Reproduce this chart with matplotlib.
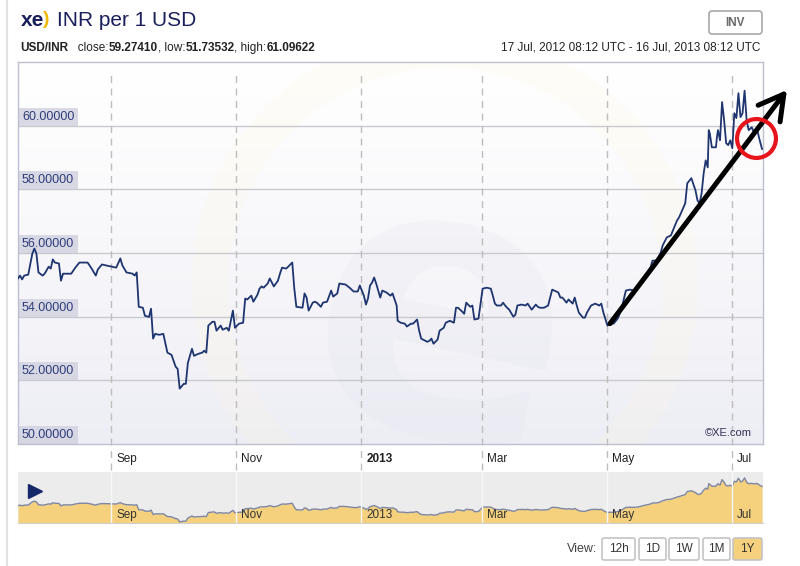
import matplotlib
matplotlib.use('Agg')
import matplotlib.pyplot as plt
import matplotlib.dates as mdates
import matplotlib.transforms as mtransforms
from matplotlib.patches import FancyBboxPatch, Rectangle, Circle, PathPatch
from matplotlib.textpath import TextPath
from matplotlib.font_manager import FontProperties
from matplotlib.lines import Line2D
import numpy as np
import pandas as pd

plt.rcParams['font.family'] = ['Liberation Sans', 'DejaVu Sans']

# ---------------- data ----------------
start = pd.Timestamp('2012-07-17 08:12')
end = pd.Timestamp('2013-07-16 08:12')

day_offsets = [0, 1, 2, 3, 5, 7, 8, 9, 10, 12, 13, 15, 16, 17, 18, 20, 21, 22, 24, 26, 28, 30, 34, 36, 38, 39,
               41, 43, 46, 48, 50, 51, 53, 56, 57, 58, 59, 61, 62, 64, 65, 66, 67, 69, 71, 73, 75, 77, 78, 79,
               81, 82, 83, 85, 86, 88, 90, 91, 92, 93, 95, 96, 97, 99, 100, 102, 103, 105, 106, 107, 108, 110,
               111, 112, 114, 115, 117, 118, 119, 120, 122, 123, 125, 127, 128, 129, 131, 132, 134, 135, 136,
               139, 140, 141, 142, 144, 145, 146, 148, 149, 151, 153, 154, 156, 157, 160, 162, 164, 166, 167,
               169, 170, 171, 172, 173, 174, 175, 177, 178, 180, 182, 183, 185, 185.5, 187, 189, 190, 192, 193,
               195, 196, 197, 200, 201, 202, 203, 205, 206, 208, 209, 211, 213, 214, 215, 217, 218, 219, 221,
               222, 223, 225, 227, 229, 231, 232, 233, 234, 236, 237, 238, 239, 240, 242, 243, 244, 246, 248,
               249, 251, 253, 254, 255, 257, 259, 261, 262, 264, 265, 266, 268, 269, 271, 272, 273, 274, 276,
               277, 278, 280, 282, 284, 285, 286, 288, 289, 291, 293, 294, 295, 297, 299, 301, 303, 305, 307,
               309, 310, 312, 314, 315, 317, 319, 320, 322, 323, 326, 327, 329, 331, 332, 333, 334, 335, 336,
               337, 337.5, 338, 339, 341, 341.5, 342, 343, 344, 345, 346, 347, 348, 349, 350, 351, 352, 353,
               354, 355, 356, 357, 358.5, 359.5, 361, 362, 363.5]

rates = [55.20, 55.29, 55.17, 55.29, 55.32, 55.98, 56.14, 55.98, 55.39, 55.29, 55.35, 55.57, 55.51, 55.80,
         55.70, 55.67, 55.13, 55.35, 55.35, 55.35, 55.54, 55.70, 55.70, 55.51, 55.29, 55.48,
         55.64, 55.61, 55.57, 55.54, 55.83, 55.61, 55.39, 55.35, 55.29, 55.39, 54.31, 54.28, 54.03, 53.99,
         54.25, 53.31, 53.46, 53.43, 53.46, 52.87, 52.80, 52.43, 52.36, 51.74,
         51.89, 51.89, 52.55, 52.99, 52.77, 52.83, 52.87, 52.93, 52.87, 53.72, 53.84, 53.84, 53.56, 53.72,
         53.59, 53.65, 53.56, 54.19, 53.65, 53.72, 53.78, 53.81,
         54.57, 54.54, 54.66, 54.47, 54.69, 54.88, 54.95, 54.91, 55.04, 55.20, 54.95, 55.13, 55.35, 55.54,
         55.51, 55.57, 55.70, 54.88, 54.31,
         54.28, 54.73, 54.60, 54.19, 54.44, 54.47, 54.44, 54.31, 54.44, 54.47, 54.82, 54.63, 54.73, 55.04,
         55.01, 54.91, 54.79, 54.79, 54.98,
         54.66, 54.38, 54.57, 54.98, 55.07, 55.23, 55.04, 54.60, 54.82, 54.76, 54.66, 54.73, 54.35, 53.87,
         53.81, 53.78, 53.69, 53.78, 53.78,
         53.91, 53.56, 53.31, 53.21, 53.24, 53.31, 53.15, 53.28, 53.56, 53.65, 53.81, 53.87, 53.81, 54.28,
         54.28, 54.16, 54.09, 54.44, 54.31,
         54.35, 53.91, 53.94, 54.88, 54.91, 54.88, 54.66, 54.41, 54.35, 54.35, 54.44, 54.35, 54.28, 54.22,
         54.00, 54.06, 54.35, 54.38, 54.35,
         54.41, 54.22, 54.38, 54.31, 54.28, 54.28, 54.35, 54.85, 54.82, 54.76, 54.60, 54.60, 54.44, 54.54,
         54.41, 54.60, 54.35, 54.13, 53.97,
         53.97, 54.13, 54.35, 54.41, 54.35, 54.41, 54.13, 53.72, 53.78, 53.78, 53.94, 54.09, 54.28, 54.82,
         54.85, 54.82, 54.91, 55.13, 55.35,
         55.54, 55.76, 55.76, 56.01, 56.24, 56.49, 56.55, 56.71, 57.02, 57.12, 57.56, 58.19, 58.35, 57.97,
         57.65, 57.56, 57.87, 58.50, 58.91,
         58.69, 59.86, 59.76, 59.32, 59.32, 59.64, 59.86, 59.54, 60.74, 60.17, 59.45, 59.39, 59.54, 59.29,
         60.39, 60.24, 61.02, 60.27,
         60.39, 61.10, 60.17, 59.86, 59.95, 59.80, 59.92, 59.64, 59.27]

y_ticks = [50, 52, 54, 56, 58, 60]
month_ticks = ['2012-09-01', '2012-11-01', '2013-01-01', '2013-03-01', '2013-05-01', '2013-07-01']
month_labels = ['Sep', 'Nov', '2013', 'Mar', 'May', 'Jul']
bold_labels = ['2013']
view_buttons = ['12h', '1D', '1W', '1M', '1Y']
active_view = '1Y'

# annotation (hand-drawn arrow and circle)
arrow_from = (289.2, 53.78)
arrow_to = (375.7, 61.12)
circle_at = (360.5, 59.61)

dates = start + pd.to_timedelta(day_offsets, unit='D')
tick_dates = [pd.Timestamp(t) for t in month_ticks]

# ---------------- figure ----------------
W, H = 800, 566
fig = plt.figure(figsize=(8, 5.66), dpi=100)
fig.patch.set_facecolor('white')


def fx(x):
    return x / W


def fy(y):
    return 1 - y / H


ident = mtransforms.IdentityTransform()


def px_box(x0, y0, x1, y1, fc, ec, r=3, lw=1.0):
    p = FancyBboxPatch((x0, H - y1), x1 - x0, y1 - y0, boxstyle=f'round,pad=0,rounding_size={r}',
                       fc=fc, ec=ec, lw=lw, transform=ident)
    fig.add_artist(p)


# outer frame line on left
fig.add_artist(Line2D([fx(6.5), fx(6.5)], [0, 1], color='#e2e2e2', lw=1.5, transform=fig.transFigure))

# ---------------- main axes ----------------
ax = fig.add_axes([fx(18), fy(444), 745 / W, 382 / H])
ax.set_facecolor('white')

# gradient background (white at top -> pale lavender at bottom)
g = np.linspace(0, 1, 200)
top = np.array([1.0, 1.0, 1.0])
bot = np.array([0.93, 0.93, 0.96])
grad = (top[None, :] * (1 - g[:, None] ** 1.2) + bot[None, :] * (g[:, None] ** 1.2))[:, None, :]
ax.imshow(grad, extent=[0, 1, 0, 1], origin='upper', transform=ax.transAxes, aspect='auto', zorder=0)

# faint watermark
ring = Circle((445, H - 285), 235, transform=ident, fill=False, ec='#fff8e0', lw=26, alpha=0.22, zorder=0.5)
ax.add_patch(ring)
ring.set_clip_path(ax.patch)
tp = TextPath((0, 0), 'e', size=380, prop=FontProperties(family='DejaVu Sans', weight='bold'))
ext = tp.get_extents()
wm_tr = mtransforms.Affine2D().translate(-(ext.x0 + ext.x1) / 2, -(ext.y0 + ext.y1) / 2) \
    .rotate_deg(-12).translate(440, H - 330)
wm = PathPatch(tp, transform=wm_tr, fc='#e6e6ef', ec='none', alpha=0.28, zorder=0.6)
ax.add_patch(wm)
wm.set_transform(wm_tr)
wm.set_clip_path(ax.patch)

xmin = mdates.date2num(start)
xmax = mdates.date2num(start + pd.Timedelta(days=364))
ax.set_xlim(xmin, xmax)
ax.set_ylim(50, 62)

for v in y_ticks[1:]:
    ax.axhline(v, color='#c9c9d0', lw=1, zorder=1)

for d in tick_dates:
    ax.axvline(d, ymin=-0.068, ymax=0.974, color='#bdbdbd', lw=1, ls=(0, (5, 4)), clip_on=False, zorder=1)

# y labels in boxes
btrans = ax.get_yaxis_transform()
for v in y_ticks:
    ax.add_patch(Rectangle((0, v), 60 / 745, 18 / 31.75, transform=btrans, fc='#d3d3e1', ec='none',
                           alpha=0.85, zorder=2))
    ax.text(4 / 745, v + 9 / 31.75, f'{v:.5f}', transform=btrans, fontsize=9, color='#2e3d7a',
            va='center', ha='left', zorder=3)

ax.plot(dates, rates, color='#1f3570', lw=1.3, zorder=4)

ax.text(fx(752), fy(433), '\u00a9XE.com', transform=fig.transFigure, fontsize=8, color='#333355',
        ha='right', va='center')

for s in ax.spines.values():
    s.set_color('#bcc0d0')
    s.set_linewidth(1)
ax.set_xticks([])
ax.set_yticks([])

# x labels below main axes
xt = mtransforms.offset_copy(ax.get_xaxis_transform(), fig=fig, x=5, y=0, units='dots')
for d, lab in zip(tick_dates, month_labels):
    ax.text(d, -15 / 382, lab, transform=xt, fontsize=8.5, color='#222222', ha='left', va='center',
            fontweight='bold' if lab in bold_labels else 'normal', clip_on=False)

# annotation arrow & circle
a0 = mdates.date2num(start + pd.Timedelta(days=arrow_from[0]))
a1 = mdates.date2num(start + pd.Timedelta(days=arrow_to[0]))
ax.annotate('', xy=(a1, arrow_to[1]), xytext=(a0, arrow_from[1]), annotation_clip=False,
            arrowprops=dict(arrowstyle='->,head_length=0.8,head_width=0.45', lw=3.6, color='black',
                            shrinkA=0, shrinkB=0, mutation_scale=22), zorder=6)
c0 = mdates.date2num(start + pd.Timedelta(days=circle_at[0]))
ax.plot([c0], [circle_at[1]], 'o', ms=28, mfc='none', mec='#e8141c', mew=3, clip_on=False, zorder=7)

# ---------------- navigator ----------------
nav = fig.add_axes([fx(18), fy(523), 745 / W, 51 / H])
nav.set_facecolor('#ececec')
nav.set_xlim(xmin, xmax)
nav.set_ylim(51.5, 62.35)
nav.fill_between(dates, 40, rates, color='#f5d17e', lw=0, zorder=1)
nav.plot(dates, rates, color='#7f86a0', lw=1, zorder=2)
for d in tick_dates:
    nav.axvline(d, color='#f7f7f7', lw=1, zorder=3)
ntr = mtransforms.offset_copy(nav.get_xaxis_transform(), fig=fig, x=5, y=0, units='dots')
for d, lab in zip(tick_dates, month_labels):
    nav.text(d, 0.15, lab, transform=ntr, fontsize=8.5, color='#333333', ha='left', va='center', zorder=4)
nav.set_xticks([])
nav.set_yticks([])
for k, s in nav.spines.items():
    s.set_color('#d0d0d0')
    s.set_visible(k == 'bottom')
fig.add_artist(Line2D([fx(35)], [fy(491)], marker='>', ms=10, color='#16286a', transform=fig.transFigure))

# ---------------- header ----------------
fig.text(fx(21), fy(21), 'xe', fontsize=15, fontweight='bold', color='#1a1f5c', va='center', ha='left')
fig.text(fx(43), fy(20), ')', fontsize=14, fontweight='bold', color='#f2b705', va='center', ha='left')
fig.text(fx(57), fy(21), 'INR per 1 USD', fontsize=15, color='#1a1f5c', va='center', ha='left')

segments = [('USD/INR', 'bold'), ('   close:', 'normal'), ('59.27410', 'bold'), (', low:', 'normal'),
            ('51.73532', 'bold'), (', high:', 'normal'), ('61.09622', 'bold')]
renderer = fig.canvas.get_renderer()
xcur = 20
for txt, wt in segments:
    t = fig.text(fx(xcur), fy(48), txt, fontsize=8.5, fontweight=wt, color='#222222', va='center', ha='left')
    bb = t.get_window_extent(renderer=renderer)
    xcur += bb.width

fig.text(fx(760), fy(48), '17 Jul, 2012 08:12 UTC - 16 Jul, 2013 08:12 UTC', fontsize=8.5, color='#222222',
         ha='right', va='center')

px_box(709, 11, 762, 34, 'white', '#a8a8a8', r=3, lw=1.2)
fig.text(fx(735.5), fy(22.5), 'INV', fontsize=8.5, fontweight='bold', color='#6a6a6a', ha='center', va='center')

# ---------------- view buttons ----------------
fig.text(fx(597), fy(549), 'View:', fontsize=9, color='#444444', ha='right', va='center')
btn_x = [(602, 635), (639, 666), (669, 699), (703, 730), (733, 762)]
for (x0, x1), lab in zip(btn_x, view_buttons):
    active = lab == active_view
    px_box(x0, 538, x1, 560, '#f5d17e' if active else 'white', '#c4c4c4', r=2, lw=1.2)
    fig.text(fx((x0 + x1) / 2), fy(549), lab, fontsize=8.5, color='#333333', ha='center', va='center')

fig.savefig('out.png', dpi=100)
